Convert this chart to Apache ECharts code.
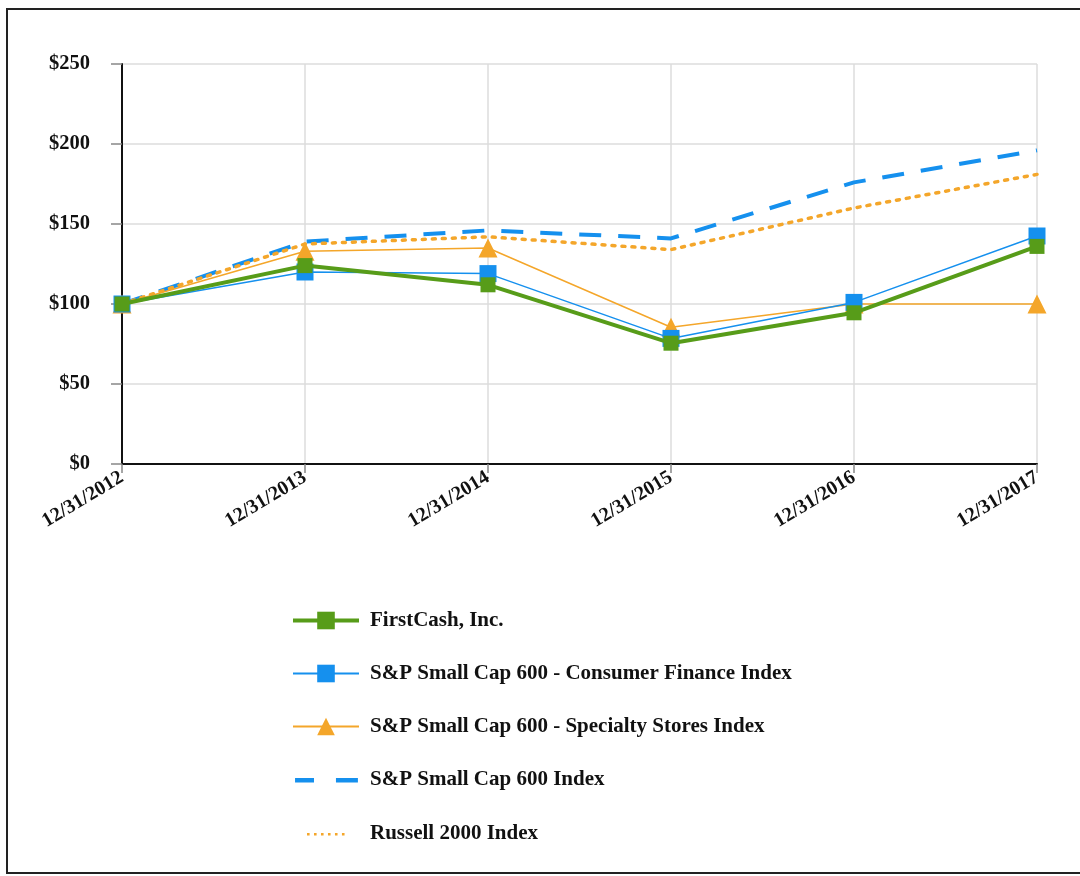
<!DOCTYPE html>
<html>
<head>
<meta charset="utf-8">
<script src="https://cdn.jsdelivr.net/npm/echarts@6/dist/echarts.min.js"></script>
<style>
html,body{margin:0;padding:0;background:#fff;}
#frame{position:absolute;left:6px;top:8px;width:1090px;height:866px;border:2px solid #222;box-sizing:border-box;}
#chart{position:absolute;left:0;top:0;width:1080px;height:876px;}
</style>
</head>
<body>
<div id="frame"></div>
<div id="chart"></div>
<script>
const categories = ['12/31/2012','12/31/2013','12/31/2014','12/31/2015','12/31/2016','12/31/2017'];
const yTicks = [0,50,100,150,200,250];
const firstCash = [100,124,112,75.5,94.5,136];
const consumerFinance = [100,120,119,78.5,101,142.5];
const specialtyStores = [100,133,135,85.5,100,100];
const smallCap600 = [100,139,146,141,176,196];
const russell2000 = [100,137.5,142,134,160,181];

const GREEN = '#579c19', BLUE = '#1590ee', ORANGE = '#f4a62a';
const FONT = '"Liberation Serif","Times New Roman",serif';

const DASH_ICON = 'path://M0,0h0.05v0.05h-0.05z M0,22h0.05v0.05h-0.05z M66,0h0.05v0.05h-0.05z M2,9h19v4.5h-19z M43,9h22v4.5h-22z';
const DOT_ICON = 'path://M0,0h0.05v0.05h-0.05z M0,22h0.05v0.05h-0.05z M66,0h0.05v0.05h-0.05z' +
  ' M14,10h2.6v2.6h-2.6z M21,10h2.6v2.6h-2.6z M28,10h2.6v2.6h-2.6z M35,10h2.6v2.6h-2.6z M42,10h2.6v2.6h-2.6z M49,10h2.6v2.6h-2.6z';

const chart = echarts.init(document.getElementById('chart'));
chart.setOption({
  animation:false,
  backgroundColor:'transparent',
  grid:{left:122,right:43,top:64,bottom:412,containLabel:false},
  xAxis:{
    type:'category',boundaryGap:false,data:categories,
    axisLine:{lineStyle:{color:'#111',width:2}},
    axisTick:{show:true,length:9,lineStyle:{color:'#888',width:1.5},alignWithLabel:true},
    axisLabel:{rotate:31,fontFamily:FONT,fontWeight:'bold',fontSize:20,color:'#111',margin:12},
    splitLine:{show:true,lineStyle:{color:'#ddd',width:1.5}}
  },
  yAxis:{
    type:'value',min:0,max:250,interval:50,
    axisLine:{show:true,lineStyle:{color:'#111',width:2}},
    axisTick:{show:true,length:11,lineStyle:{color:'#888',width:1.5}},
    axisLabel:{fontFamily:FONT,fontWeight:'bold',fontSize:20.5,color:'#111',margin:32,
      formatter:v=>yTicks.includes(v)?'$'+v:''},
    splitLine:{show:true,lineStyle:{color:'#ddd',width:1.5}}
  },
  legend:{
    orient:'vertical',left:286,top:605,itemGap:32,itemWidth:66,itemHeight:22,
    textStyle:{fontFamily:FONT,fontWeight:'bold',fontSize:21,color:'#111',padding:[0,0,0,6]},
    data:[
      {name:'FirstCash, Inc.',lineStyle:{width:4}},
      {name:'S&P Small Cap 600 - Consumer Finance Index',lineStyle:{width:2}},
      {name:'S&P Small Cap 600 - Specialty Stores Index',lineStyle:{width:2}},
      {name:'S&P Small Cap 600 Index',icon:DASH_ICON,itemStyle:{color:BLUE}},
      {name:'Russell 2000 Index',icon:DOT_ICON,itemStyle:{color:ORANGE}}
    ]
  },
  series:[
    {name:'S&P Small Cap 600 Index',type:'line',data:smallCap600,symbol:'none',z:2,
      lineStyle:{color:BLUE,width:4,type:[22,17]},itemStyle:{color:BLUE}},
    {name:'Russell 2000 Index',type:'line',data:russell2000,symbol:'none',z:2,
      lineStyle:{color:ORANGE,width:3.5,type:[3,7],cap:'round'},itemStyle:{color:ORANGE}},
    {name:'S&P Small Cap 600 - Specialty Stores Index',type:'line',data:specialtyStores,z:3,
      symbol:'triangle',symbolSize:19,lineStyle:{color:ORANGE,width:1.5},itemStyle:{color:ORANGE}},
    {name:'S&P Small Cap 600 - Consumer Finance Index',type:'line',data:consumerFinance,z:4,
      symbol:'rect',symbolSize:17,lineStyle:{color:BLUE,width:1.5},itemStyle:{color:BLUE}},
    {name:'FirstCash, Inc.',type:'line',data:firstCash,z:5,
      symbol:'rect',symbolSize:15,lineStyle:{color:GREEN,width:4},itemStyle:{color:GREEN}}
  ]
});
</script>
</body>
</html>
